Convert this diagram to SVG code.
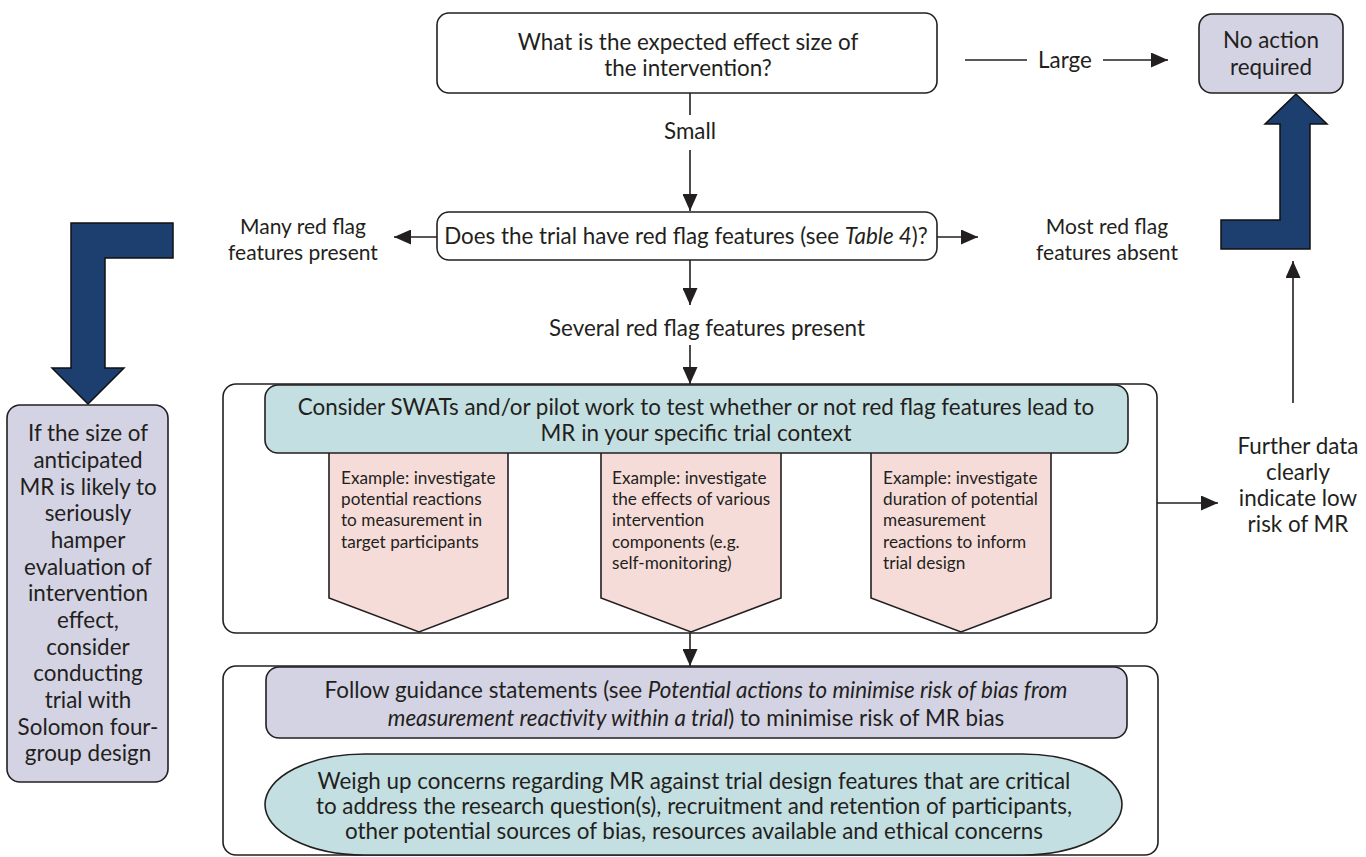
<svg xmlns="http://www.w3.org/2000/svg" width="1366" height="857" viewBox="0 0 1366 857">
  <defs>
    <marker id="ah" viewBox="0 0 17 15" refX="17" refY="7.5" markerWidth="17" markerHeight="15" markerUnits="userSpaceOnUse" orient="auto">
      <path d="M0,0 L17,7.5 L0,15 Z" fill="#231f20"/>
    </marker>
    <style>
      text { font-family: Lato, "Open Sans", "Liberation Sans", sans-serif; fill: #231f20; }
      .t20 { font-size: 22.4px; text-anchor: middle; }
      .t21 { font-size: 21px; text-anchor: middle; }
      .t15 { font-size: 17.2px; }
      .box { stroke: #231f20; stroke-width: 1.6; }
      .white { fill: #ffffff; }
      .lav { fill: #d4d3e3; }
      .teal { fill: #c3dfe1; }
      .pink { fill: #f6dcd9; }
      .blue { fill: #1c3f6f; stroke: #111111; stroke-width: 1.5; }
      .con { stroke: #231f20; stroke-width: 1.6; fill: none; }
      .arr { marker-end: url(#ah); }
    </style>
  </defs>

  <g id="connectors">
    <line class="con" x1="690" y1="93" x2="690" y2="115"/>
    <line class="con arr" x1="690" y1="150" x2="690" y2="211"/>
    <line class="con" x1="965" y1="60" x2="1027" y2="60"/>
    <line class="con arr" x1="1103" y1="60" x2="1168" y2="60"/>
    <line class="con arr" x1="437" y1="237" x2="394" y2="237"/>
    <line class="con arr" x1="937" y1="237" x2="978" y2="237"/>
    <line class="con arr" x1="690" y1="260" x2="690" y2="305"/>
    <line class="con arr" x1="690" y1="345" x2="690" y2="384"/>
    <line class="con arr" x1="690" y1="633" x2="690" y2="666"/>
    <line class="con arr" x1="1157" y1="503" x2="1218" y2="503"/>
    <line class="con arr" x1="1293" y1="403" x2="1293" y2="261"/>
    <polygon id="blue-arrow-left" class="blue" points="71,223 173,223 173,258 105,258 105,368 124,368 88,404 52,368 71,368"/>
    <polygon id="blue-arrow-right" class="blue" points="1296,94 1327,124 1310,124 1310,249 1221,249 1221,220 1280,220 1280,124 1265,124"/>
  </g>

  <g id="labels">
    <text class="t20" x="690" y="139">Small</text>
    <text class="t20" x="1065" y="68">Large</text>
    <text class="t21" x="303" y="234">Many red flag</text>
    <text class="t21" x="303" y="260">features present</text>
    <text class="t21" x="1107" y="234">Most red flag</text>
    <text class="t21" x="1107" y="260">features absent</text>
    <text class="t20" x="707" y="336">Several red flag features present</text>
    <text class="t20" x="1298" y="454">Further data</text>
    <text class="t20" x="1298" y="480">clearly</text>
    <text class="t20" x="1298" y="506">indicate low</text>
    <text class="t20" x="1298" y="532">risk of MR</text>
  </g>

  <g id="node-effect-size">
    <rect class="box white" x="437" y="13" width="500" height="80" rx="12"/>
    <text class="t20" x="688" y="50">What is the expected effect size of</text>
    <text class="t20" x="688" y="76">the intervention?</text>
  </g>

  <g id="node-no-action">
    <rect class="box lav" x="1199" y="14" width="144" height="79" rx="13"/>
    <text class="t20" x="1271" y="48">No action</text>
    <text class="t20" x="1271" y="75">required</text>
  </g>

  <g id="node-red-flags">
    <rect class="box white" x="437" y="212" width="500" height="48" rx="12"/>
    <text class="t20" x="686" y="244">Does the trial have red flag features (see <tspan font-style="italic">Table 4</tspan>)?</text>
  </g>

  <g id="node-solomon">
    <rect class="box lav" x="7" y="405" width="161" height="377" rx="13"/>
    <text class="t20" x="88" y="441">If the size of</text>
    <text class="t20" x="88" y="468">anticipated</text>
    <text class="t20" x="88" y="495">MR is likely to</text>
    <text class="t20" x="88" y="521">seriously</text>
    <text class="t20" x="88" y="548">hamper</text>
    <text class="t20" x="88" y="575">evaluation of</text>
    <text class="t20" x="88" y="601">intervention</text>
    <text class="t20" x="88" y="628">effect,</text>
    <text class="t20" x="88" y="655">consider</text>
    <text class="t20" x="88" y="681">conducting</text>
    <text class="t20" x="88" y="708">trial with</text>
    <text class="t20" x="88" y="735">Solomon four-</text>
    <text class="t20" x="88" y="761">group design</text>
  </g>

  <g id="node-swats">
    <rect class="box white" x="223" y="384" width="934" height="249" rx="13"/>
    <polygon class="box pink" points="329,440 508,440 508,598 419,632 329,598"/>
    <polygon class="box pink" points="601,440 781,440 781,598 691,632 601,598"/>
    <polygon class="box pink" points="871,440 1051,440 1051,598 961,632 871,598"/>
    <rect class="box teal" x="265" y="385" width="863" height="68" rx="13"/>
    <text class="t20" x="696" y="415">Consider SWATs and/or pilot work to test whether or not red flag features lead to</text>
    <text class="t20" x="696" y="441">MR in your specific trial context</text>
    <text class="t15" x="341" y="484">Example: investigate</text>
    <text class="t15" x="341" y="505">potential reactions</text>
    <text class="t15" x="341" y="526">to measurement in</text>
    <text class="t15" x="341" y="548">target participants</text>
    <text class="t15" x="612" y="484">Example: investigate</text>
    <text class="t15" x="612" y="505">the effects of various</text>
    <text class="t15" x="612" y="526">intervention</text>
    <text class="t15" x="612" y="548">components (e.g.</text>
    <text class="t15" x="612" y="569">self-monitoring)</text>
    <text class="t15" x="883" y="484">Example: investigate</text>
    <text class="t15" x="883" y="505">duration of potential</text>
    <text class="t15" x="883" y="526">measurement</text>
    <text class="t15" x="883" y="548">reactions to inform</text>
    <text class="t15" x="883" y="569">trial design</text>
  </g>

  <g id="node-guidance">
    <rect class="box white" x="223" y="666" width="935" height="189" rx="13"/>
    <rect class="box lav" x="266" y="667" width="861" height="71" rx="13"/>
    <text class="t20" x="696" y="698">Follow guidance statements (see <tspan font-style="italic">Potential actions to minimise risk of bias from</tspan></text>
    <text class="t20" x="696" y="726"><tspan font-style="italic">measurement reactivity within a trial</tspan>) to minimise risk of MR bias</text>
    <path class="box teal" d="M 365,754 H 1022 A 100,50.5 0 0 1 1122,804.5 A 100,50.5 0 0 1 1022,855 H 365 A 100,50.5 0 0 1 265,804.5 A 100,50.5 0 0 1 365,754 Z"/>
    <text class="t20" x="694" y="789">Weigh up concerns regarding MR against trial design features that are critical</text>
    <text class="t20" x="694" y="814">to address the research question(s), recruitment and retention of participants,</text>
    <text class="t20" x="694" y="839">other potential sources of bias, resources available and ethical concerns</text>
  </g>
</svg>
